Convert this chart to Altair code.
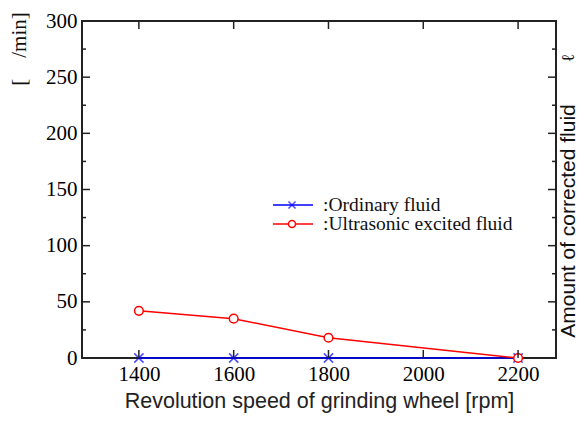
import altair as alt
import pandas as pd

# ---- data ----
rpm = [1400, 1600, 1800, 2200]
ordinary = [0, 0, 0, 0]
ultrasonic = [42, 35, 18, 0]
x_ticks = [1400, 1600, 1800, 2000, 2200]
y_major = [0, 50, 100, 150, 200, 250, 300]
y_minor = [25, 75, 125, 175, 225, 275]
legend_labels = [":Ordinary fluid", ":Ultrasonic excited fluid"]
x_title = "Revolution speed of grinding wheel [rpm]"
y_title_left = "[\u00a0\u00a0\u00a0\u00a0/min]"
y_title_right = "Amount of corrected fluid"
y_unit = "\u2113"

W, H = 474, 337
BLUE, RED = "#0000ff", "#ff0000"
SERIF = "Liberation Serif"
SANS = "Liberation Sans"
XSHAPE = "M-1,-1L1,1M1,-1L-1,1"

xs = alt.Scale(domain=[1280, 2280], nice=False, zero=False)
ys = alt.Scale(domain=[0, 300], nice=False)

df_o = pd.DataFrame({"rpm": rpm, "v": ordinary})
df_u = pd.DataFrame({"rpm": rpm, "v": ultrasonic})
df_xt = pd.DataFrame({"rpm": x_ticks})
df_ymaj = pd.DataFrame({"v": y_major[1:-1]})
df_ymin = pd.DataFrame({"v": y_minor})

X = alt.X("rpm:Q", scale=xs, axis=alt.Axis(values=x_ticks, format="d", title=x_title, ticks=False, domain=False,
                                           grid=False, labelFont=SERIF, labelFontSize=21, labelColor="#000",
                                           labelPadding=5, titleFont=SANS, titleFontSize=21.5,
                                           titleFontWeight="normal", titleColor="#222", titlePadding=6))
Y = alt.Y("v:Q", scale=ys, axis=alt.Axis(values=y_major, title=None, ticks=False, domain=False, grid=False,
                                         labelFont=SERIF, labelFontSize=21, labelColor="#000", labelPadding=5))

line_o = alt.Chart(df_o).mark_line(color=BLUE, strokeWidth=1.5).encode(x=X, y=Y)
pts_o = alt.Chart(df_o).mark_point(shape=XSHAPE, color=BLUE, size=85, strokeWidth=1.5,
                                    filled=False).encode(x="rpm:Q", y="v:Q")
line_u = alt.Chart(df_u).mark_line(color=RED, strokeWidth=1.5).encode(x="rpm:Q", y="v:Q")
pts_u = alt.Chart(df_u).mark_point(shape="circle", filled=False, fill="white", fillOpacity=1, stroke=RED,
                                    size=75, strokeWidth=1.5, opacity=1).encode(x="rpm:Q", y="v:Q")

tick_color = "#222"
xt_bot = alt.Chart(df_xt).mark_rule(color=tick_color, strokeWidth=1.5).encode(
    x="rpm:Q", y=alt.value(H), y2=alt.value(H - 8))
xt_top = alt.Chart(df_xt).mark_rule(color=tick_color, strokeWidth=1.5).encode(
    x="rpm:Q", y=alt.value(0), y2=alt.value(8))
yt_l = alt.Chart(df_ymaj).mark_rule(color=tick_color, strokeWidth=1.5).encode(
    y="v:Q", x=alt.value(0), x2=alt.value(8))
yt_r = alt.Chart(df_ymaj).mark_rule(color=tick_color, strokeWidth=1.5).encode(
    y="v:Q", x=alt.value(W), x2=alt.value(W - 8))
ym_l = alt.Chart(df_ymin).mark_rule(color=tick_color, strokeWidth=1.5).encode(
    y="v:Q", x=alt.value(0), x2=alt.value(4))
ym_r = alt.Chart(df_ymin).mark_rule(color=tick_color, strokeWidth=1.5).encode(
    y="v:Q", x=alt.value(W), x2=alt.value(W - 4))

# legend (manual)
leg = []
for i, (lab, col) in enumerate(zip(legend_labels, [BLUE, RED])):
    yy = 184 + 19 * i
    d = pd.DataFrame({"label": [lab]})
    leg.append(alt.Chart(d).mark_rule(color=col, strokeWidth=1.5).encode(
        x=alt.value(191), x2=alt.value(231), y=alt.value(yy)))
    if i == 0:
        leg.append(alt.Chart(d).mark_point(shape=XSHAPE, color=col, size=50, strokeWidth=1.5,
                                           filled=False).encode(x=alt.value(210), y=alt.value(yy)))
    else:
        leg.append(alt.Chart(d).mark_point(shape="circle", filled=False, fill="white", fillOpacity=1,
                                           stroke=col, size=50, strokeWidth=1.5, opacity=1).encode(
            x=alt.value(210), y=alt.value(yy)))
    leg.append(alt.Chart(d).mark_text(font=SERIF, fontSize=19.5, align="left", baseline="middle",
                                      color="#111").encode(x=alt.value(241), y=alt.value(yy), text="label:N"))

t_left = alt.Chart(pd.DataFrame({"t": [y_title_left]})).mark_text(
    font=SERIF, fontSize=21, angle=270, align="center", baseline="middle", color="#111").encode(
    x=alt.value(-62), y=alt.value(28), text="t:N")
t_right = alt.Chart(pd.DataFrame({"t": [y_title_right]})).mark_text(
    font=SANS, fontSize=21, angle=270, align="center", baseline="middle", color="#111").encode(
    x=alt.value(487), y=alt.value(200), text="t:N")
t_unit = alt.Chart(pd.DataFrame({"t": [y_unit]})).mark_text(
    font=SERIF, fontSize=18, angle=270, align="center", baseline="middle", color="#111").encode(
    x=alt.value(487), y=alt.value(37), text="t:N")

chart = alt.layer(line_o, line_u, pts_o, pts_u, xt_bot, xt_top, yt_l, yt_r, ym_l, ym_r, *leg,
                  t_left, t_right, t_unit).properties(
    width=W, height=H,
    autosize=alt.AutoSizeParams(type="none"),
    padding={"left": 74, "top": 13, "right": 23, "bottom": 57},
    background="white",
).configure_view(stroke="#222", strokeWidth=2)

chart.save("out.html", embed_options={"renderer": "svg", "actions": False})
